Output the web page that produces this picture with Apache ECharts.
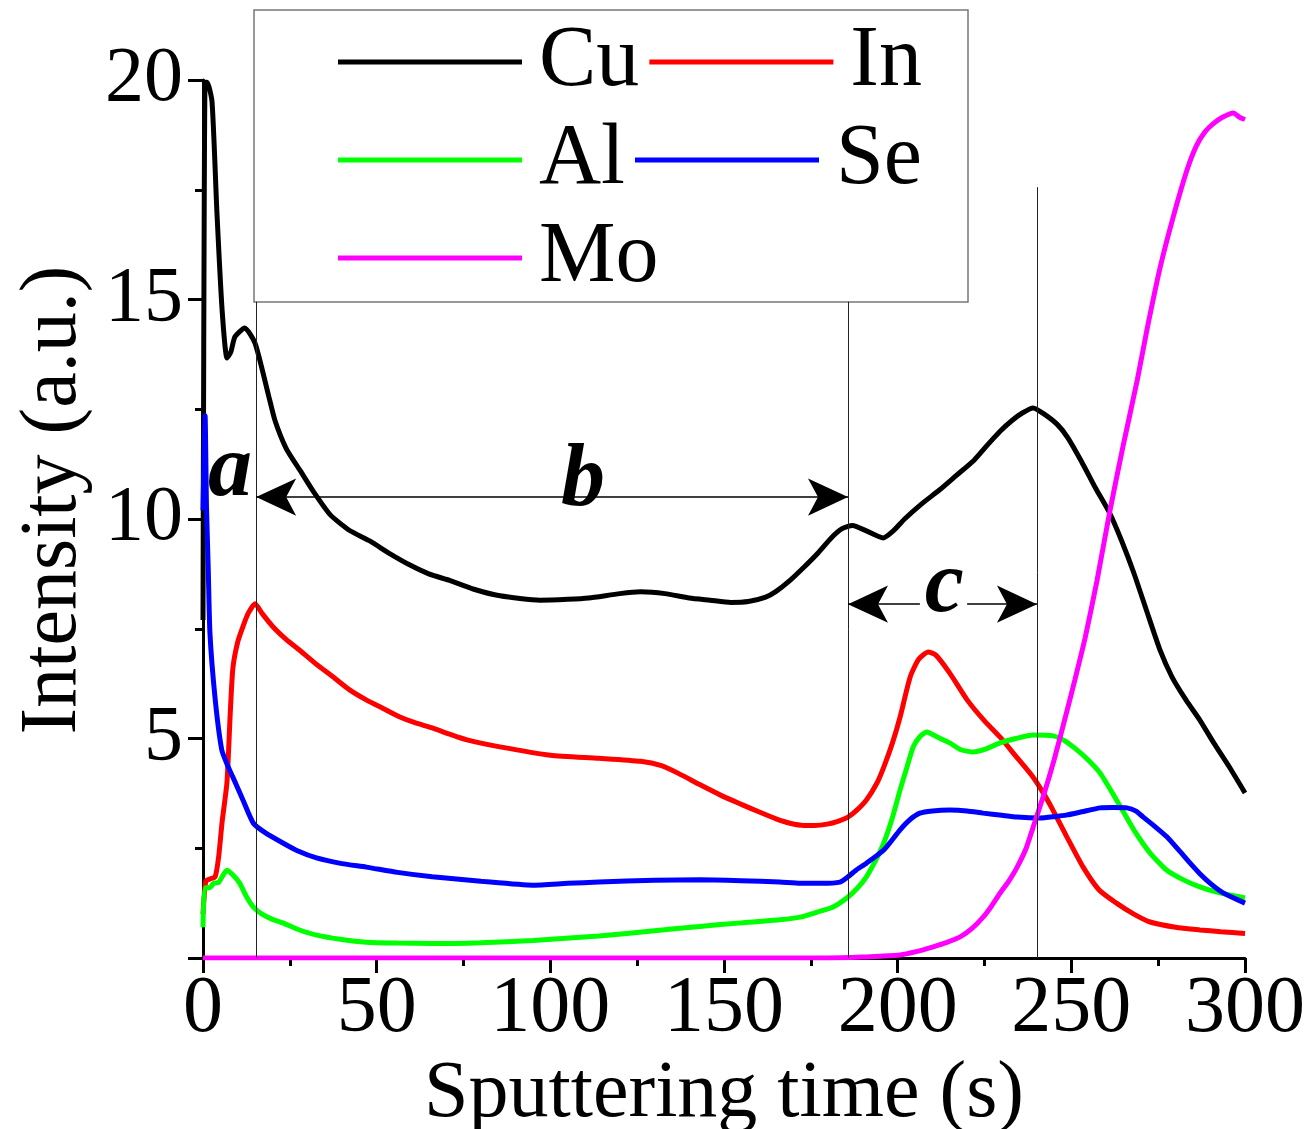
<!DOCTYPE html>
<html lang="en">
<head>
    <meta charset="UTF-8">
    <title>Sputtering depth profile</title>
    <script src="https://cdn.jsdelivr.net/npm/echarts/dist/echarts.min.js"></script>
    <style>
        body { margin: 0; padding: 0; background-color: white; }
        #main { width: 1307px; height: 1129px; }
    </style>
</head>
<body>
    <div id="main"></div>

    <script type="text/javascript">
        var chartDom = document.getElementById('main');
        var myChart = echarts.init(chartDom);
        var option;

        // element names and colours (legend order)
        var elementNames = ['Cu', 'In', 'Al', 'Se', 'Mo'];
        var lineColors = ['#000000', '#ff0000', '#00ff00', '#0000ff', '#ff00ff'];

        // [time (s), intensity (a.u.)]
        var cuData = [[0, 7.7], [0.6, 19.95], [1.2, 19.95], [2.6, 19.5], [4, 17.0], [5.5, 14.76], [6.9, 13.67], [8, 13.8],
            [9.2, 14.15], [12, 14.35], [15, 14.0], [18.7, 12.87], [20.7, 12.25], [24, 11.6], [28, 11.1], [32, 10.6],
            [36.6, 10.1], [42, 9.75], [48, 9.5], [54, 9.2], [59.6, 8.95], [65, 8.75], [71, 8.6], [78, 8.4], [85.5, 8.25],
            [97, 8.15], [105, 8.17], [111, 8.2], [120, 8.3], [126, 8.34], [133, 8.3], [140, 8.2], [146, 8.15], [152, 8.1],
            [157, 8.12], [162, 8.22], [165, 8.35], [169, 8.6], [173, 8.9], [177, 9.22], [181, 9.58], [184, 9.78],
            [187, 9.85], [191, 9.73], [195.8, 9.57], [199, 9.75], [202, 10.0], [207, 10.35], [212, 10.66], [217, 11.0],
            [222, 11.34], [226, 11.7], [229.5, 12.0], [233, 12.25], [236, 12.42], [239, 12.53], [242, 12.4], [246, 12.15],
            [249, 11.85], [253, 11.3], [257, 10.7], [261, 10.14], [264.5, 9.5], [268, 8.77], [271.5, 7.95], [275.6, 7.0],
            [279, 6.4], [283, 5.88], [287, 5.42], [291, 4.9], [295.5, 4.35], [300, 3.76]];

        var inData = [[0, 1.0], [0.8, 1.75], [2, 1.8], [3.5, 1.85], [4.5, 2.3], [5.5, 3.1], [6.9, 4.0], [7.8, 5.5],
            [8.6, 6.6], [10, 7.2], [11.5, 7.55], [13, 7.85], [15, 8.07], [17, 7.85], [20.2, 7.54], [24, 7.25], [28, 7.0],
            [32.5, 6.7], [37.5, 6.4], [42, 6.12], [47, 5.88], [52, 5.68], [56.7, 5.49], [61, 5.36], [66, 5.24], [71, 5.1],
            [76, 4.97], [85.5, 4.81], [100, 4.62], [114, 4.55], [126, 4.48], [132, 4.38], [137, 4.2], [143, 3.95],
            [149, 3.71], [155, 3.5], [160, 3.33], [165, 3.17], [169, 3.07], [173, 3.02], [176, 3.02], [179.7, 3.05],
            [183, 3.12], [185.7, 3.21], [188, 3.35], [191, 3.6], [194, 3.98], [196, 4.35], [198.5, 4.9], [200.7, 5.49],
            [203.6, 6.4], [206, 6.8], [208.8, 6.97], [211, 6.9], [215, 6.49], [220, 5.88], [225, 5.4], [229.5, 5.03],
            [234, 4.6], [239, 4.12], [242, 3.75], [244.7, 3.37], [248.7, 2.76], [253.4, 2.07], [258, 1.55], [263, 1.25],
            [268, 1.0], [272.7, 0.82], [280, 0.7], [287, 0.64], [293, 0.6], [300, 0.56]];

        var alData = [[0, 0.7], [0.5, 1.6], [2, 1.6], [3, 1.7], [4.5, 1.72], [5.5, 1.85], [6.9, 2.0], [8.5, 1.9],
            [10.6, 1.7], [12.5, 1.4], [14.5, 1.16], [17, 1.0], [20, 0.88], [23, 0.8], [27, 0.66], [32.7, 0.52], [40, 0.42],
            [47, 0.36], [56, 0.34], [66, 0.33], [80, 0.35], [95, 0.4], [114, 0.5], [130, 0.62], [143, 0.72], [155, 0.8],
            [166, 0.87], [172, 0.93], [177, 1.05], [181.4, 1.16], [185.7, 1.39], [188.5, 1.6], [191, 1.85], [193.5, 2.2],
            [196, 2.62], [198.5, 3.2], [200.7, 3.83], [202.5, 4.3], [204.5, 4.81], [206.5, 5.05], [208.4, 5.15], [211, 5.05],
            [215, 4.9], [218, 4.75], [221.8, 4.69], [225, 4.75], [229.5, 4.9], [234, 5.0], [239, 5.08], [244.8, 5.06],
            [248, 4.95], [251.6, 4.74], [255, 4.5], [258.3, 4.21], [263, 3.6], [268, 2.92], [272.7, 2.39], [277.5, 2.0],
            [282.3, 1.78], [287, 1.62], [291.9, 1.5], [296, 1.43], [300, 1.37]];

        var seData = [[0, 10.2], [0.6, 12.35], [1.0, 10.3], [1.5, 8.9], [2, 7.4], [3.5, 5.9], [5.4, 4.74], [7, 4.4],
            [8.6, 4.12], [11.5, 3.6], [14.5, 3.07], [18, 2.85], [23, 2.62], [27, 2.45], [32.7, 2.28], [40, 2.15], [47, 2.07],
            [56, 1.95], [66, 1.85], [80, 1.75], [95, 1.66], [105, 1.7], [114, 1.73], [130, 1.77], [143, 1.78], [155, 1.76],
            [166, 1.73], [172, 1.7], [178, 1.7], [183.4, 1.73], [185.7, 1.85], [188, 2.0], [191, 2.16], [196, 2.46],
            [200.7, 2.92], [203.5, 3.15], [206.4, 3.3], [210, 3.35], [215, 3.37], [220, 3.35], [224.6, 3.3], [230, 3.25],
            [234.4, 3.21], [241, 3.19], [245, 3.22], [248.8, 3.26], [253, 3.33], [258.3, 3.42], [262, 3.43], [266, 3.42],
            [268.5, 3.35], [270.7, 3.21], [274, 3.0], [277.5, 2.76], [281, 2.45], [284.2, 2.16], [287, 1.92], [290, 1.7],
            [293, 1.52], [296.6, 1.37], [300, 1.25]];

        var moData = [[0, 0], [50, 0], [100, 0], [150, 0], [180, 0], [190, 0.02], [195, 0.04], [200.7, 0.07],
            [205, 0.14], [210, 0.25], [214, 0.35], [218, 0.48], [221.5, 0.68], [224.6, 0.93], [227, 1.18], [229.5, 1.48],
            [232, 1.75], [234.4, 2.07], [237, 2.5], [239, 2.98], [242, 3.7], [245, 4.5], [248, 5.4], [251, 6.33],
            [254, 7.3], [257.4, 8.6], [261, 10.14], [265, 11.7], [269, 13.17], [272, 14.4], [275.6, 15.74], [279.4, 16.9],
            [283.3, 17.95], [286, 18.5], [288.5, 18.82], [290.8, 19.0], [293.5, 19.15], [296.6, 19.25], [298.5, 19.15],
            [300, 19.1]];

        var profileData = [cuData, inData, alData, seData, moData];

        // region boundaries (s) and annotation rows
        var regionEdges = [15.3, 185.7, 240.1];
        var edgeTops = [14.95, 14.95, 17.56];
        var arrowB = 10.5, arrowC = 8.06;
        var cGap = [206.4, 220.0];
        var regionLabels = [['a', 7.8, 11.07], ['b', 109.4, 10.84], ['c', 213.4, 8.43]];

        var serifFont = 'Liberation Serif';
        // plain upright serif text
        function serifText(size) {
            return { fontFamily: serifFont, fontStyle: 'normal', fontWeight: 'normal', fontSize: size, color: '#000' };
        }
        var arrowSize = [28, 40];
        var arrowStyle = { color: '#000', width: 1.5, type: 'solid' };

        var edgeLines = regionEdges.map(function (t, i) {
            return [
                { coord: [t, 0], symbol: 'none', lineStyle: { color: '#222', width: 1, type: 'solid' } },
                { coord: [t, edgeTops[i]], symbol: 'none' }
            ];
        });
        var arrowLines = [
            [{ coord: [regionEdges[0], arrowB], symbol: 'arrow', symbolSize: arrowSize, lineStyle: arrowStyle },
             { coord: [regionEdges[1], arrowB], symbol: 'arrow', symbolSize: arrowSize }],
            [{ coord: [regionEdges[1], arrowC], symbol: 'arrow', symbolSize: arrowSize, lineStyle: arrowStyle },
             { coord: [cGap[0], arrowC], symbol: 'none' }],
            [{ coord: [cGap[1], arrowC], symbol: 'none', lineStyle: arrowStyle },
             { coord: [regionEdges[2], arrowC], symbol: 'arrow', symbolSize: arrowSize }]
        ];

        var series = elementNames.map(function (name, i) {
            var s = {
                name: name,
                type: 'line',
                data: profileData[i],
                symbol: 'none',
                smooth: 0.2,
                lineStyle: { width: 5, color: lineColors[i] },
                itemStyle: { color: lineColors[i] },
                emphasis: { disabled: true }
            };
            if (i === 0) {
                s.markLine = {
                    silent: true,
                    animation: false,
                    label: { show: false },
                    itemStyle: { color: '#000' },
                    data: edgeLines.concat(arrowLines)
                };
                s.markPoint = {
                    silent: true,
                    symbol: 'circle',
                    symbolSize: 1,
                    itemStyle: { color: 'rgba(0,0,0,0)' },
                    label: {
                        show: true,
                        position: 'inside',
                        formatter: '{b}',
                        color: '#000',
                        fontFamily: serifFont,
                        fontStyle: 'italic',
                        fontWeight: 'bold',
                        fontSize: 88
                    },
                    data: regionLabels.map(function (r) {
                        return { name: r[0], coord: [r[1], r[2]] };
                    })
                };
            }
            return s;
        });

        var legendText = serifText(86);
        legendText.lineHeight = 88;
        legendText.padding = [0, 0, 0, 12];

        var yNameStyle = serifText(80);
        yNameStyle.padding = [0, 0, 0, 38];

        var xLabel = serifText(80);
        xLabel.margin = 12;
        var yLabel = serifText(78);
        yLabel.margin = 20;
        yLabel.showMinLabel = false;

        option = {
            animation: false,
            backgroundColor: '#fff',
            textStyle: serifText(12),
            grid: { left: 203, right: 62, top: 80, bottom: 171, containLabel: false, outerBoundsMode: 'none' },
            legend: {
                data: elementNames,
                icon: 'rect',
                left: 338,
                top: 18,
                width: 600,
                padding: 0,
                itemGap: 10,
                itemWidth: 184,
                itemHeight: 5,
                z: 5,
                textStyle: legendText
            },
            graphic: [{
                type: 'rect',
                z: 1,
                silent: true,
                shape: { x: 254, y: 10, width: 714, height: 292 },
                style: { fill: 'none', stroke: '#777', lineWidth: 1.5 }
            }],
            xAxis: {
                type: 'value',
                min: 0,
                max: 300,
                interval: 50,
                name: 'Sputtering time (s)',
                nameLocation: 'middle',
                nameGap: 46,
                nameTextStyle: serifText(80),
                axisLine: { lineStyle: { color: '#000', width: 3 } },
                axisTick: { length: 15, lineStyle: { width: 3, color: '#000' } },
                minorTick: { show: true, splitNumber: 2, length: 8, lineStyle: { width: 3, color: '#000' } },
                splitLine: { show: false },
                axisLabel: xLabel
            },
            yAxis: {
                type: 'value',
                min: 0,
                max: 20,
                interval: 5,
                name: 'Intensity (a.u.)',
                nameLocation: 'middle',
                nameGap: 106,
                nameTextStyle: yNameStyle,
                axisLine: { show: true, lineStyle: { color: '#000', width: 3 } },
                axisTick: { show: true, length: 15, lineStyle: { width: 3, color: '#000' } },
                minorTick: { show: true, splitNumber: 2, length: 8, lineStyle: { width: 3, color: '#000' } },
                splitLine: { show: false },
                axisLabel: yLabel
            },
            series: series
        };

        myChart.setOption(option);
    </script>
</body>
</html>
